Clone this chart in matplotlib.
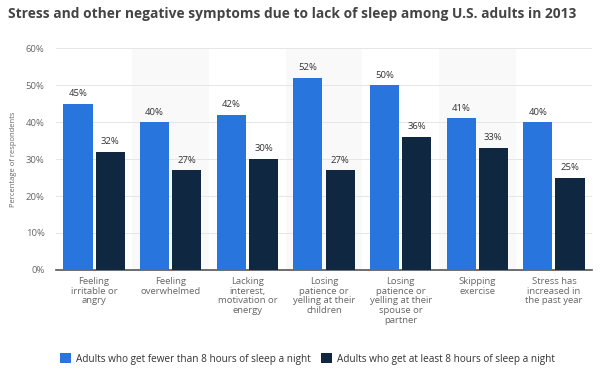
import matplotlib.pyplot as plt
import numpy as np

categories = ["Feeling\nirritable or\nangry", "Feeling\noverwhelmed",
              "Lacking\ninterest,\nmotivation or\nenergy",
              "Losing\npatience or\nyelling at their\nchildren",
              "Losing\npatience or\nyelling at their\nspouse or\npartner",
              "Skipping\nexercise", "Stress has\nincreased in\nthe past year"]
fewer_than_8 = [45, 40, 42, 52, 50, 41, 40]
at_least_8 = [32, 27, 30, 27, 36, 33, 25]
series_names = ["Adults who get fewer than 8 hours of sleep a night",
                "Adults who get at least 8 hours of sleep a night"]

plt.rcParams['font.family'] = ['Open Sans', 'DejaVu Sans']

fig = plt.figure(figsize=(6, 3.76), dpi=100)
ax = fig.add_axes([0.093, 0.282, 0.894, 0.59])

x = np.arange(len(categories))
w = 0.38
gap = 0.02

# shaded bands behind every other group
for i in x:
    if i % 2 == 1:
        ax.axvspan(i - 0.5, i + 0.5, color='#f9f9f9', zorder=0, lw=0)

b1 = ax.bar(x - w / 2 - gap, fewer_than_8, w, color='#2876dd', zorder=3, label=series_names[0])
b2 = ax.bar(x + w / 2 + gap, at_least_8, w, color='#0f2741', zorder=3, label=series_names[1])

for bars in (b1, b2):
    for r in bars:
        ax.annotate(f"{r.get_height():.0f}%", (r.get_x() + r.get_width() / 2, r.get_height()),
                    xytext=(0, 4), textcoords='offset points', ha='center', va='bottom',
                    fontsize=6.8, color='#333333')

ax.set_xlim(-0.5, len(categories) - 0.5)
ax.set_ylim(0, 60)
ax.set_yticks(range(0, 61, 10))
ax.set_yticklabels([f"{v}%" for v in range(0, 61, 10)])
ax.yaxis.grid(True, color='#e6e6e6', lw=0.7, zorder=1)
ax.set_axisbelow(True)
ax.set_xticks(x)
ax.set_xticklabels(categories, fontsize=6.8, color='#666666', linespacing=1.1, va='top')
ax.tick_params(axis='x', length=0, pad=5)
ax.tick_params(axis='y', length=0, labelsize=6.8, labelcolor='#666666', pad=8)
for s in ('top', 'right', 'left'):
    ax.spines[s].set_visible(False)
ax.spines['bottom'].set_color('#555555')
ax.spines['bottom'].set_linewidth(1.2)
ax.set_ylabel("Percentage of respondents", fontsize=5.5, color='#666666', labelpad=6)

fig.text(0.013, 0.962, "Stress and other negative symptoms due to lack of sleep among U.S. adults in 2013",
         fontsize=9.9, fontweight='bold', color='#444444', va='center')

fig.legend(loc='center', bbox_to_anchor=(0.512, 0.045), ncol=2, frameon=False,
           fontsize=7.2, handlelength=1.1, handleheight=1.1, columnspacing=1.0,
           handletextpad=0.5, labelcolor='#333333')

fig.savefig('out.png', dpi=100)
